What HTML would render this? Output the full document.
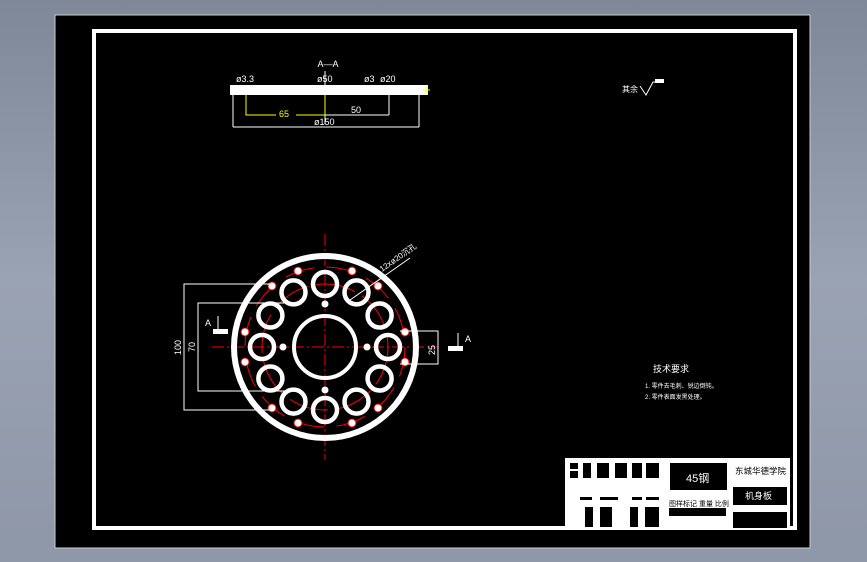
<!DOCTYPE html>
<html><head><meta charset="utf-8"><style>
html,body{margin:0;padding:0;width:867px;height:562px;overflow:hidden;background:linear-gradient(#7e8898,#9aa3b3 50%,#8e97a7);}
svg{position:absolute;left:0;top:0}
text{font-family:"Liberation Sans","Noto Sans CJK SC",sans-serif;}
</style></head><body>
<svg width="867" height="562" viewBox="0 0 867 562">
<rect x="55" y="15" width="755" height="533" fill="#000" stroke="#c8ccd4" stroke-width="1"/>
<rect x="94" y="31" width="701" height="497" fill="none" stroke="#fff" stroke-width="4"/>

<text x="328" y="67" fill="#fff" font-size="9" text-anchor="middle">A—A</text>
<line x1="325" y1="71" x2="325" y2="124" stroke="#fff" stroke-width="1"/>
<rect x="230" y="85" width="198" height="10" fill="#fff"/>
<g stroke="#fff" fill="none" stroke-width="1"><line x1="233" y1="95" x2="233" y2="127"/><line x1="419" y1="95" x2="419" y2="127"/><line x1="233" y1="127" x2="419" y2="127"/><line x1="325" y1="115" x2="389" y2="115"/><line x1="389" y1="95" x2="389" y2="115"/></g>
<g stroke="#ff0" fill="none" stroke-width="1"><polyline points="246,95 246,115 276,115"/><line x1="296" y1="115" x2="325" y2="115"/><line x1="325" y1="95" x2="325" y2="115"/><line x1="427" y1="86" x2="427" y2="94"/><line x1="423" y1="90" x2="430" y2="90"/></g>
<g fill="#fff" font-size="9"><text x="236" y="82">ø3.3</text><text x="317" y="82">ø50</text><text x="364" y="82">ø3</text><text x="380" y="82">ø20</text><text x="351" y="113">50</text><text x="314" y="125">ø150</text></g>
<text x="279" y="117" fill="#ff0" font-size="9">65</text>

<text x="622" y="92" fill="#fff" font-size="8">其余</text>
<polyline points="640,86 646,95 653,82 664,82" fill="none" stroke="#fff"/><rect x="655" y="79" width="9" height="4" fill="#fff"/>

<text x="653" y="372" fill="#fff" font-size="9">技术要求</text>
<text x="645" y="388" fill="#fff" font-size="6">1. 零件去毛刺、锐边倒钝。</text>
<text x="645" y="399" fill="#fff" font-size="6">2. 零件表面发黑处理。</text>

<g transform="translate(325,347)">
<line x1="0" y1="-113" x2="0" y2="113" stroke="#f00" stroke-dasharray="12,3,2,3"/>
<line x1="-113" y1="0" x2="113" y2="0" stroke="#f00" stroke-dasharray="12,3,2,3"/>
<circle r="91" fill="none" stroke="#fff" stroke-width="6"/>
<circle r="31" fill="none" stroke="#fff" stroke-width="4"/>
<circle r="63" fill="none" stroke="#f00" stroke-width="1" stroke-dasharray="40,8"/>
<circle r="80" fill="none" stroke="#f00" stroke-width="1" stroke-dasharray="30,12"/>
<g fill="none" stroke="#fff" stroke-width="4.5">
<circle cx="63" cy="0" r="12"/><circle cx="54.6" cy="31.5" r="12"/><circle cx="31.5" cy="54.6" r="12"/><circle cx="0" cy="63" r="12"/><circle cx="-31.5" cy="54.6" r="12"/><circle cx="-54.6" cy="31.5" r="12"/><circle cx="-63" cy="0" r="12"/><circle cx="-54.6" cy="-31.5" r="12"/><circle cx="-31.5" cy="-54.6" r="12"/><circle cx="0" cy="-63" r="12"/><circle cx="31.5" cy="-54.6" r="12"/><circle cx="54.6" cy="-31.5" r="12"/>
</g>
<g fill="#fff"><circle cx="0" cy="-43" r="3.5"/><circle cx="0" cy="43" r="3.5"/><circle cx="-42" cy="0" r="3.5"/><circle cx="42" cy="0" r="3.5"/></g>
<g fill="#fff" stroke="#f00" stroke-width="1">
<circle cx="80" cy="-15" r="4"/><circle cx="80" cy="15" r="4"/><circle cx="-80" cy="-15" r="4"/><circle cx="-80" cy="15" r="4"/>
<circle cx="53" cy="-61" r="4"/><circle cx="27" cy="-76" r="4"/><circle cx="-53" cy="-61" r="4"/><circle cx="-27" cy="-76" r="4"/>
<circle cx="53" cy="61" r="4"/><circle cx="27" cy="76" r="4"/><circle cx="-53" cy="61" r="4"/><circle cx="-27" cy="76" r="4"/>
</g>
</g>
<g stroke="#fff" fill="none" stroke-width="1">
<polyline points="270,284 184,284 184,410 270,410"/>
<polyline points="295,303 198,303 198,391 295,391"/>
<polyline points="400,331 438,331 438,364 400,364"/>
<line x1="350" y1="300" x2="410" y2="258"/>
</g>
<rect x="213" y="329" width="15" height="5" fill="#fff"/><line x1="218" y1="316" x2="218" y2="329" stroke="#fff"/>
<rect x="448" y="346" width="15" height="5" fill="#fff"/><line x1="458" y1="333" x2="458" y2="346" stroke="#fff"/>
<g fill="#fff" font-size="9">
<text x="205" y="326">A</text><text x="465" y="342">A</text>
<text transform="translate(181,355) rotate(-90)">100</text>
<text transform="translate(195,352) rotate(-90)">70</text>
<text transform="translate(435,355) rotate(-90)">25</text>
<text transform="translate(382,272) rotate(-35)" font-size="8">12xø20沉孔</text>
</g>

<rect x="565" y="458" width="225" height="70" fill="#fff"/>
<g fill="#000">
<rect x="570" y="463" width="8" height="6"/><rect x="570" y="471" width="8" height="7"/><rect x="583" y="463" width="8" height="15"/><rect x="597" y="463" width="12" height="15"/><rect x="615" y="463" width="12" height="15"/><rect x="632" y="463" width="10" height="15"/><rect x="646" y="463" width="13" height="15"/>
<rect x="580" y="497" width="12" height="3"/><rect x="600" y="497" width="18" height="3"/><rect x="632" y="497" width="10" height="3"/><rect x="646" y="497" width="13" height="3"/>
<rect x="585" y="507" width="8" height="20"/><rect x="600" y="507" width="12" height="20"/><rect x="630" y="507" width="8" height="20"/><rect x="645" y="507" width="14" height="20"/>
<rect x="670" y="463" width="57" height="27"/><rect x="669" y="508" width="57" height="8"/>
<rect x="733" y="487" width="54" height="18"/><rect x="733" y="512" width="54" height="16"/>
</g>
<text x="686" y="482" fill="#fff" font-size="11">45钢</text>
<text x="735" y="474" fill="#000" font-size="8.5">东城华德学院</text>
<text x="745" y="499" fill="#fff" font-size="9">机身板</text>
<text x="669" y="506" fill="#000" font-size="7">图样标记 重量 比例</text>
</svg>
</body></html>
